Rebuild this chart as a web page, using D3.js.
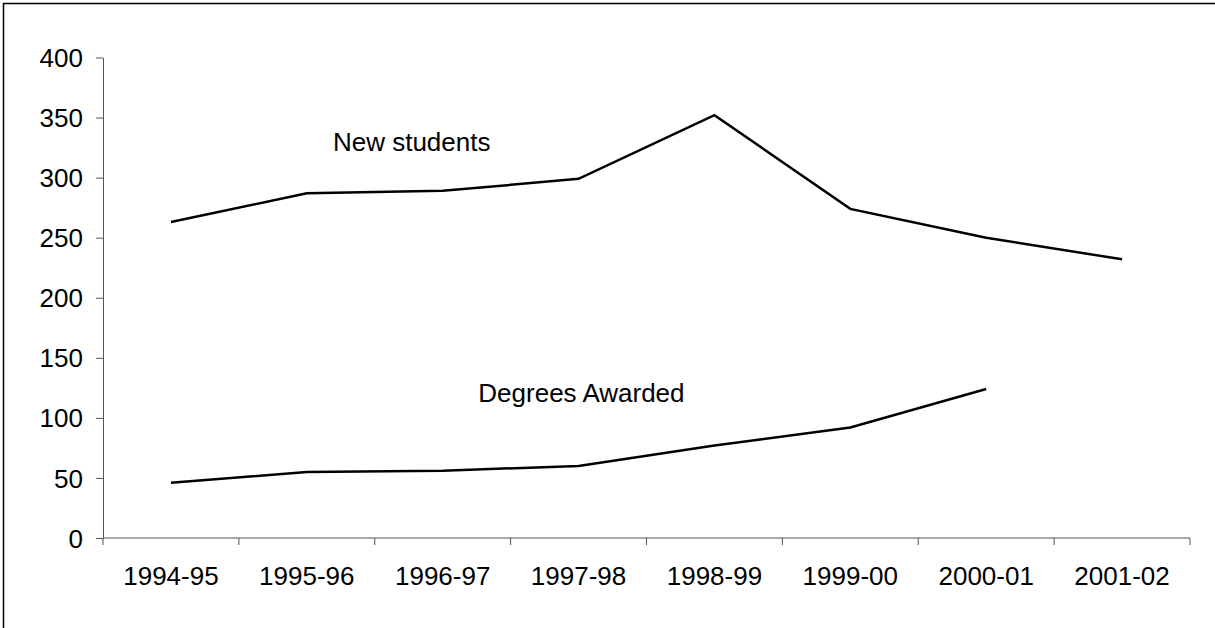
<!DOCTYPE html>
<html>
<head>
<meta charset="utf-8">
<script src="https://cdn.jsdelivr.net/npm/d3@7"></script>
<style>
  body { margin: 0; background: #fff; }
  svg { display: block; font-family: "Liberation Sans", Arial, sans-serif; }
</style>
</head>
<body>
<div id="chart"></div>
<script>
// data
var years = ['1994-95', '1995-96', '1996-97', '1997-98', '1998-99', '1999-00', '2000-01', '2001-02']
var newStudents = [263, 287, 289, 299, 352, 274, 250, 232]
var degreesAwarded = [46, 55, 56, 60, 77, 92, 124]
var yTicks = [0, 50, 100, 150, 200, 250, 300, 350, 400]
var seriesLabels = [
  { text: 'New students', cat: '1996-97', value: 322, dx: -31 },
  { text: 'Degrees Awarded', cat: '1998-99', value: 113, dx: -133 }
]

var W = 1215, H = 628, fs = 26
var margin = { left: 103, right: 25, top: 57.5, bottom: 90 }

var svg = d3.select('#chart').append('svg')
  .attr('width', W).attr('height', H)

// frame (only top + left edges show in the picture)
svg.append('path')
  .attr('d', 'M3.5,' + H + 'V3.5H' + W)
  .attr('fill', 'none')
  .attr('stroke', '#000')
  .attr('stroke-width', 1.5)

var x = d3.scaleBand()
  .domain(years)
  .range([margin.left, W - margin.right])

var y = d3.scaleLinear()
  .domain([0, 400])
  .range([H - margin.bottom, margin.top])

// y axis
var yAxis = svg.append('g')
  .attr('transform', 'translate(' + margin.left + ',0)')
  .call(d3.axisLeft(y).tickValues(yTicks).tickSize(7).tickPadding(13).tickSizeOuter(0))
yAxis.select('.domain').attr('stroke', '#555')
yAxis.selectAll('.tick line').attr('stroke', '#555')
yAxis.selectAll('text')
  .attr('font-size', fs)
  .attr('fill', '#000')
  .attr('font-family', '"Liberation Sans", Arial, sans-serif')
  .attr('dy', '0.35em')

// x axis with ticks between categories
var xAxis = svg.append('g')
  .attr('transform', 'translate(0,' + y(0) + ')')
xAxis.append('line')
  .attr('x1', margin.left).attr('x2', W - margin.right)
  .attr('stroke', '#555')
var bounds = years.map(function(d){ return x(d) }).concat([W - margin.right])
xAxis.selectAll('.xtick').data(bounds).enter().append('line')
  .attr('class', 'xtick')
  .attr('x1', function(d){ return d }).attr('x2', function(d){ return d })
  .attr('y1', 0).attr('y2', 7)
  .attr('stroke', '#555')
xAxis.selectAll('.xlab').data(years).enter().append('text')
  .attr('class', 'xlab')
  .attr('x', function(d){ return x(d) + x.bandwidth() / 2 })
  .attr('y', 47)
  .attr('text-anchor', 'middle')
  .attr('font-size', fs)
  .text(function(d){ return d })

var line = d3.line()
  .x(function(d, i){ return x(years[i]) + x.bandwidth() / 2 })
  .y(function(d){ return y(d) })

;[newStudents, degreesAwarded].forEach(function(s){
  svg.append('path')
    .datum(s)
    .attr('d', line)
    .attr('fill', 'none')
    .attr('stroke', '#000')
    .attr('stroke-width', 2.5)
})

svg.selectAll('.slab').data(seriesLabels).enter().append('text')
  .attr('class', 'slab')
  .attr('x', function(d){ return x(d.cat) + x.bandwidth() / 2 + d.dx })
  .attr('y', function(d){ return y(d.value) })
  .attr('text-anchor', 'middle')
  .attr('font-size', fs)
  .text(function(d){ return d.text })
</script>
</body>
</html>
